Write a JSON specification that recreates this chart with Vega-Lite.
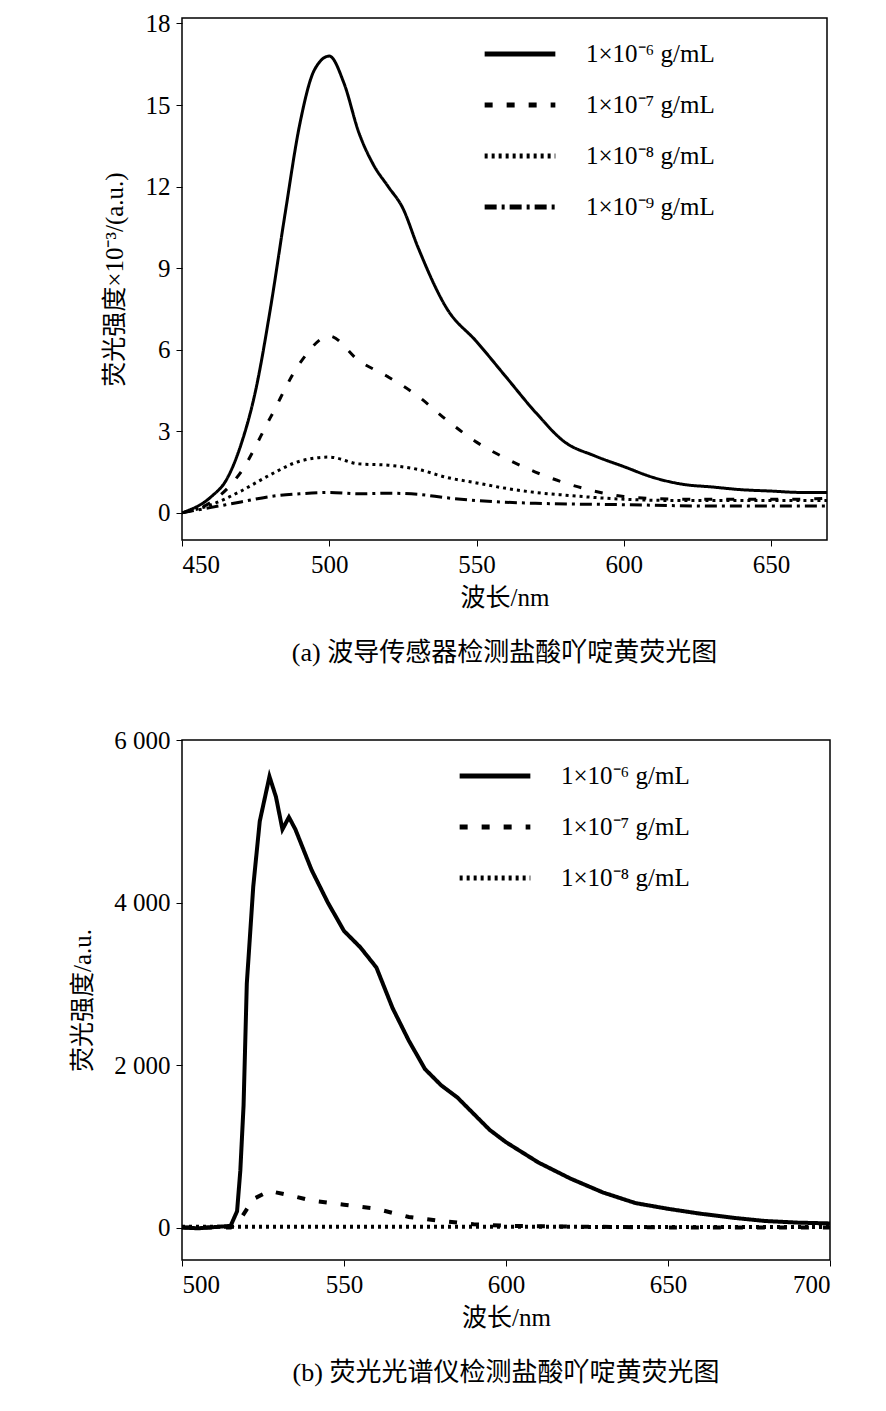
{
  "$schema": "https://vega.github.io/schema/vega-lite/v6.json",
  "background": "white",
  "padding": {"left": 70, "top": 10, "right": 10, "bottom": 5},
  "resolve": {"legend": {"strokeDash": "independent"}, "scale": {"strokeDash": "independent"}},
  "config": {
    "locale": {"number": {"decimal": ".", "thousands": " ", "grouping": [3], "currency": ["", ""]}},
    "font": "Liberation Serif, Noto Sans CJK SC",
    "view": {"stroke": "black", "strokeWidth": 1.5},
    "axis": {"grid": false, "domain": false, "tickColor": "black", "tickSize": 6, "labelFontSize": 25, "titleFontSize": 25, "labelColor": "black", "titleColor": "black", "titleFontWeight": "normal", "labelFont": "Liberation Serif", "titleFont": "Liberation Serif, Noto Sans CJK SC", "labelPadding": 6},
    "legend": {"labelFontSize": 25, "labelFont": "Liberation Serif", "labelColor": "black", "symbolType": "stroke", "symbolSize": 5000, "symbolStrokeWidth": 5, "rowPadding": -22, "labelOffset": 28, "labelLimit": 300},
    "title": {"fontSize": 26, "fontWeight": "normal", "font": "Liberation Serif, Noto Sans CJK SC", "color": "black", "anchor": "middle"},
    "concat": {"spacing": 60}
  },
  "datasets": {
    "a": [
      {"s":"1×10⁻⁶ g/mL","x":450,"y":0},{"s":"1×10⁻⁶ g/mL","x":460,"y":0.6},{"s":"1×10⁻⁶ g/mL","x":465,"y":1.2},{"s":"1×10⁻⁶ g/mL","x":470,"y":2.5},{"s":"1×10⁻⁶ g/mL","x":475,"y":4.5},{"s":"1×10⁻⁶ g/mL","x":480,"y":7.5},{"s":"1×10⁻⁶ g/mL","x":485,"y":11},{"s":"1×10⁻⁶ g/mL","x":490,"y":14.3},{"s":"1×10⁻⁶ g/mL","x":495,"y":16.3},{"s":"1×10⁻⁶ g/mL","x":500,"y":16.8},{"s":"1×10⁻⁶ g/mL","x":505,"y":15.8},{"s":"1×10⁻⁶ g/mL","x":510,"y":14},{"s":"1×10⁻⁶ g/mL","x":515,"y":12.8},{"s":"1×10⁻⁶ g/mL","x":520,"y":12},{"s":"1×10⁻⁶ g/mL","x":525,"y":11.2},{"s":"1×10⁻⁶ g/mL","x":530,"y":9.8},{"s":"1×10⁻⁶ g/mL","x":540,"y":7.5},{"s":"1×10⁻⁶ g/mL","x":550,"y":6.3},{"s":"1×10⁻⁶ g/mL","x":560,"y":5},{"s":"1×10⁻⁶ g/mL","x":570,"y":3.7},{"s":"1×10⁻⁶ g/mL","x":580,"y":2.6},{"s":"1×10⁻⁶ g/mL","x":590,"y":2.1},{"s":"1×10⁻⁶ g/mL","x":600,"y":1.7},{"s":"1×10⁻⁶ g/mL","x":610,"y":1.3},{"s":"1×10⁻⁶ g/mL","x":620,"y":1.05},{"s":"1×10⁻⁶ g/mL","x":630,"y":0.95},{"s":"1×10⁻⁶ g/mL","x":640,"y":0.85},{"s":"1×10⁻⁶ g/mL","x":650,"y":0.8},{"s":"1×10⁻⁶ g/mL","x":660,"y":0.75},{"s":"1×10⁻⁶ g/mL","x":670,"y":0.75},
      {"s":"1×10⁻⁷ g/mL","x":450,"y":0},{"s":"1×10⁻⁷ g/mL","x":460,"y":0.4},{"s":"1×10⁻⁷ g/mL","x":470,"y":1.5},{"s":"1×10⁻⁷ g/mL","x":480,"y":3.5},{"s":"1×10⁻⁷ g/mL","x":490,"y":5.5},{"s":"1×10⁻⁷ g/mL","x":500,"y":6.5},{"s":"1×10⁻⁷ g/mL","x":510,"y":5.6},{"s":"1×10⁻⁷ g/mL","x":520,"y":5},{"s":"1×10⁻⁷ g/mL","x":530,"y":4.3},{"s":"1×10⁻⁷ g/mL","x":540,"y":3.4},{"s":"1×10⁻⁷ g/mL","x":550,"y":2.6},{"s":"1×10⁻⁷ g/mL","x":560,"y":2},{"s":"1×10⁻⁷ g/mL","x":570,"y":1.5},{"s":"1×10⁻⁷ g/mL","x":580,"y":1.1},{"s":"1×10⁻⁷ g/mL","x":590,"y":0.8},{"s":"1×10⁻⁷ g/mL","x":600,"y":0.6},{"s":"1×10⁻⁷ g/mL","x":620,"y":0.5},{"s":"1×10⁻⁷ g/mL","x":640,"y":0.5},{"s":"1×10⁻⁷ g/mL","x":660,"y":0.5},{"s":"1×10⁻⁷ g/mL","x":670,"y":0.55},
      {"s":"1×10⁻⁸ g/mL","x":450,"y":0},{"s":"1×10⁻⁸ g/mL","x":460,"y":0.3},{"s":"1×10⁻⁸ g/mL","x":470,"y":0.8},{"s":"1×10⁻⁸ g/mL","x":480,"y":1.4},{"s":"1×10⁻⁸ g/mL","x":490,"y":1.9},{"s":"1×10⁻⁸ g/mL","x":500,"y":2.05},{"s":"1×10⁻⁸ g/mL","x":510,"y":1.8},{"s":"1×10⁻⁸ g/mL","x":520,"y":1.75},{"s":"1×10⁻⁸ g/mL","x":530,"y":1.6},{"s":"1×10⁻⁸ g/mL","x":540,"y":1.3},{"s":"1×10⁻⁸ g/mL","x":550,"y":1.1},{"s":"1×10⁻⁸ g/mL","x":560,"y":0.9},{"s":"1×10⁻⁸ g/mL","x":570,"y":0.75},{"s":"1×10⁻⁸ g/mL","x":580,"y":0.65},{"s":"1×10⁻⁸ g/mL","x":600,"y":0.5},{"s":"1×10⁻⁸ g/mL","x":620,"y":0.45},{"s":"1×10⁻⁸ g/mL","x":650,"y":0.45},{"s":"1×10⁻⁸ g/mL","x":670,"y":0.45},
      {"s":"1×10⁻⁹ g/mL","x":450,"y":0},{"s":"1×10⁻⁹ g/mL","x":460,"y":0.2},{"s":"1×10⁻⁹ g/mL","x":470,"y":0.4},{"s":"1×10⁻⁹ g/mL","x":480,"y":0.6},{"s":"1×10⁻⁹ g/mL","x":490,"y":0.7},{"s":"1×10⁻⁹ g/mL","x":500,"y":0.75},{"s":"1×10⁻⁹ g/mL","x":510,"y":0.7},{"s":"1×10⁻⁹ g/mL","x":520,"y":0.72},{"s":"1×10⁻⁹ g/mL","x":530,"y":0.68},{"s":"1×10⁻⁹ g/mL","x":540,"y":0.55},{"s":"1×10⁻⁹ g/mL","x":550,"y":0.45},{"s":"1×10⁻⁹ g/mL","x":570,"y":0.35},{"s":"1×10⁻⁹ g/mL","x":600,"y":0.3},{"s":"1×10⁻⁹ g/mL","x":630,"y":0.25},{"s":"1×10⁻⁹ g/mL","x":670,"y":0.25}
    ],
    "b": [
      {"s":"1×10⁻⁶ g/mL","x":500,"y":0},{"s":"1×10⁻⁶ g/mL","x":505,"y":-10},{"s":"1×10⁻⁶ g/mL","x":510,"y":5},{"s":"1×10⁻⁶ g/mL","x":515,"y":20},{"s":"1×10⁻⁶ g/mL","x":517,"y":200},{"s":"1×10⁻⁶ g/mL","x":518,"y":700},{"s":"1×10⁻⁶ g/mL","x":519,"y":1500},{"s":"1×10⁻⁶ g/mL","x":520,"y":3000},{"s":"1×10⁻⁶ g/mL","x":522,"y":4200},{"s":"1×10⁻⁶ g/mL","x":524,"y":5000},{"s":"1×10⁻⁶ g/mL","x":527,"y":5550},{"s":"1×10⁻⁶ g/mL","x":529,"y":5300},{"s":"1×10⁻⁶ g/mL","x":531,"y":4900},{"s":"1×10⁻⁶ g/mL","x":533,"y":5050},{"s":"1×10⁻⁶ g/mL","x":535,"y":4900},{"s":"1×10⁻⁶ g/mL","x":540,"y":4400},{"s":"1×10⁻⁶ g/mL","x":545,"y":4000},{"s":"1×10⁻⁶ g/mL","x":550,"y":3650},{"s":"1×10⁻⁶ g/mL","x":555,"y":3450},{"s":"1×10⁻⁶ g/mL","x":560,"y":3200},{"s":"1×10⁻⁶ g/mL","x":565,"y":2700},{"s":"1×10⁻⁶ g/mL","x":570,"y":2300},{"s":"1×10⁻⁶ g/mL","x":575,"y":1950},{"s":"1×10⁻⁶ g/mL","x":580,"y":1750},{"s":"1×10⁻⁶ g/mL","x":585,"y":1600},{"s":"1×10⁻⁶ g/mL","x":590,"y":1400},{"s":"1×10⁻⁶ g/mL","x":595,"y":1200},{"s":"1×10⁻⁶ g/mL","x":600,"y":1050},{"s":"1×10⁻⁶ g/mL","x":610,"y":800},{"s":"1×10⁻⁶ g/mL","x":620,"y":600},{"s":"1×10⁻⁶ g/mL","x":630,"y":430},{"s":"1×10⁻⁶ g/mL","x":640,"y":300},{"s":"1×10⁻⁶ g/mL","x":650,"y":230},{"s":"1×10⁻⁶ g/mL","x":660,"y":170},{"s":"1×10⁻⁶ g/mL","x":670,"y":120},{"s":"1×10⁻⁶ g/mL","x":680,"y":80},{"s":"1×10⁻⁶ g/mL","x":690,"y":60},{"s":"1×10⁻⁶ g/mL","x":700,"y":50},
      {"s":"1×10⁻⁷ g/mL","x":500,"y":0},{"s":"1×10⁻⁷ g/mL","x":515,"y":0},{"s":"1×10⁻⁷ g/mL","x":518,"y":100},{"s":"1×10⁻⁷ g/mL","x":522,"y":350},{"s":"1×10⁻⁷ g/mL","x":527,"y":450},{"s":"1×10⁻⁷ g/mL","x":535,"y":380},{"s":"1×10⁻⁷ g/mL","x":540,"y":330},{"s":"1×10⁻⁷ g/mL","x":550,"y":280},{"s":"1×10⁻⁷ g/mL","x":560,"y":230},{"s":"1×10⁻⁷ g/mL","x":570,"y":130},{"s":"1×10⁻⁷ g/mL","x":580,"y":80},{"s":"1×10⁻⁷ g/mL","x":590,"y":40},{"s":"1×10⁻⁷ g/mL","x":600,"y":20},{"s":"1×10⁻⁷ g/mL","x":650,"y":0},{"s":"1×10⁻⁷ g/mL","x":700,"y":0},
      {"s":"1×10⁻⁸ g/mL","x":500,"y":10},{"s":"1×10⁻⁸ g/mL","x":550,"y":10},{"s":"1×10⁻⁸ g/mL","x":600,"y":10},{"s":"1×10⁻⁸ g/mL","x":650,"y":5},{"s":"1×10⁻⁸ g/mL","x":700,"y":5}
    ]
  },
  "vconcat": [
    {
      "width": 645, "height": 522,
      "title": {"text": "(a) 波导传感器检测盐酸吖啶黄荧光图", "orient": "bottom", "offset": 30},
      "data": {"name": "a"},
      "mark": {"type": "line", "color": "black", "strokeWidth": 3, "clip": true, "interpolate": "monotone"},
      "encoding": {
        "x": {"field": "x", "type": "quantitative", "scale": {"domain": [450, 669], "nice": false, "zero": false}, "axis": {"values": [450, 500, 550, 600, 650], "title": "波长/nm", "titlePadding": 8}},
        "y": {"field": "y", "type": "quantitative", "scale": {"domain": [-1, 18.2], "nice": false}, "axis": {"values": [0, 3, 6, 9, 12, 15, 18], "title": "荧光强度×10⁻³/(a.u.)", "titlePadding": 18}},
        "strokeDash": {"field": "s", "type": "nominal", "sort": null, "scale": {"range": [[1, 0], [8, 14], [3, 4], [12, 5, 3, 5]]}, "legend": {"title": null, "orient": "none", "legendX": 300, "legendY": -2}}
      }
    },
    {
      "width": 648, "height": 520,
      "title": {"text": "(b) 荧光光谱仪检测盐酸吖啶黄荧光图", "orient": "bottom", "offset": 30},
      "data": {"name": "b"},
      "mark": {"type": "line", "color": "black", "strokeWidth": 4, "clip": true},
      "encoding": {
        "x": {"field": "x", "type": "quantitative", "scale": {"domain": [500, 700], "nice": false, "zero": false}, "axis": {"values": [500, 550, 600, 650, 700], "title": "波长/nm", "titlePadding": 8}},
        "y": {"field": "y", "type": "quantitative", "scale": {"domain": [-400, 6000], "nice": false}, "axis": {"values": [0, 2000, 4000, 6000], "format": ",d", "title": "荧光强度/a.u.", "titlePadding": 18}},
        "strokeDash": {"field": "s", "type": "nominal", "sort": null, "scale": {"range": [[1, 0], [8, 14], [3, 4]]}, "legend": {"title": null, "orient": "none", "legendX": 275, "legendY": -2}}
      }
    }
  ]
}
